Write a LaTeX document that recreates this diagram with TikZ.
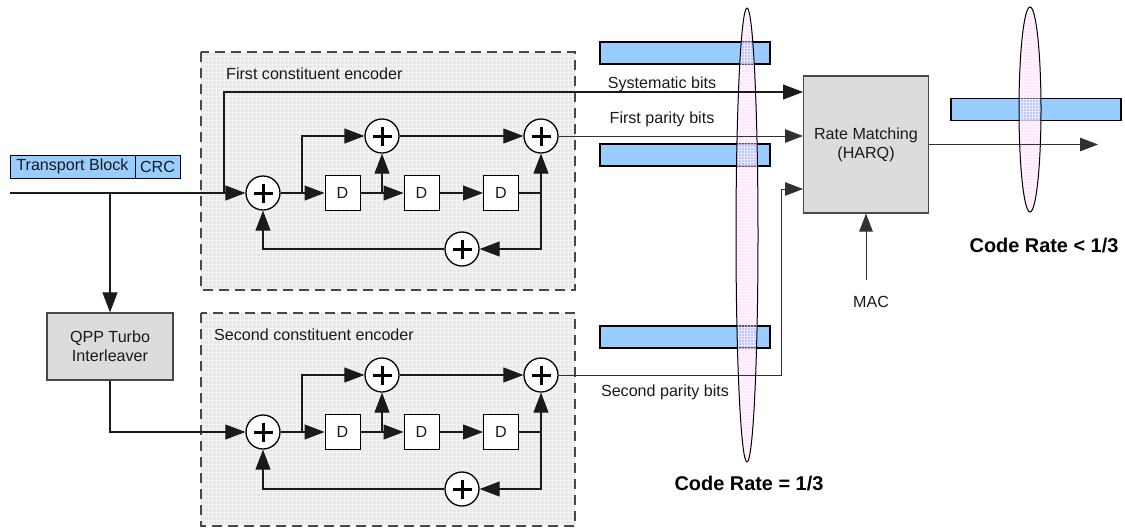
\documentclass[tikz,border=0pt]{standalone}
\usepackage{fontspec}
\setmainfont{Liberation Sans}
\usepackage{xcolor}
\usetikzlibrary{arrows.meta}
\definecolor{ink}{HTML}{1A1A1A}
\definecolor{barblue}{HTML}{99CCFF}
\definecolor{boxgray}{HTML}{DCDCDC}
\definecolor{encgray}{HTML}{E8E8E8}
\definecolor{encgrid}{HTML}{F4F4F4}
\definecolor{lenspink}{HTML}{FFBFFF}
\tikzset{
  flow/.style={draw=ink, line width=1.05pt, -{Triangle[length=20pt,width=15pt]}},
  flowthin/.style={draw=ink!90, line width=1pt, -{Triangle[length=18pt,width=13.5pt]}},
  plainline/.style={draw=ink, line width=1.05pt},
  encbox/.style={draw=ink!80, line width=1.5pt, dash pattern=on 10pt off 6pt},
  gridline/.style={draw=encgrid, line width=0.6pt},
  lensline/.style={draw=white, line width=0.5pt, opacity=0.6},
  lens/.style={draw=black, line width=1pt},
  adder/.style={circle, draw=black, fill=white, line width=1.3pt, minimum size=34pt, inner sep=0pt,
    path picture={\draw[line width=3pt] (path picture bounding box.center) +(-9.5,0) -- +(9.5,0)
      (path picture bounding box.center) +(0,-9.5) -- +(0,9.5);}},
  delay/.style={draw=black, fill=white, line width=1pt, minimum size=35pt, inner sep=0pt, lab},
  graybox/.style={draw=ink!80, fill=boxgray, line width=1.2pt, inner sep=0pt, align=center, lab},
  bar/.style={draw=black, fill=barblue, line width=1.1pt, minimum width=170pt, minimum height=22pt, inner sep=0pt},
  tbcell/.style={draw=black, fill=barblue, line width=1pt, minimum height=23pt, inner sep=0pt, lab},
  lab/.style={text=ink, font=\fontsize{16.1}{19}\selectfont, align=center},
  ratelab/.style={text=black, font=\fontsize{19.9}{23}\selectfont\bfseries},
}
\begin{document}
\begin{tikzpicture}[x=1pt,y=-1pt]
  \useasboundingbox (0,0) rectangle (1125,528);

  % encoder backgrounds
  \fill[encgray] (201,52) rectangle (575,290);
  \fill[encgray] (201,313) rectangle (575,526);
  \draw[gridline,step=4pt] (201,52) grid (575,290);
  \draw[gridline,step=4pt] (201,313) grid (575,526);
  \draw[encbox] (201,52) rectangle (575,290);
  \draw[encbox] (201,313) rectangle (575,526);
  \node[lab,anchor=west,inner sep=0pt] (enc1lab) at (226,73.5) {First constituent encoder};
  \node[lab,anchor=west,inner sep=0pt] (enc2lab) at (214,334.5) {Second constituent encoder};

  % bits
  \node[bar] (bar1) at (685,53) {};
  \node[bar] (bar2) at (685,155) {};
  \node[bar] (bar3) at (685,337) {};
  \node[bar] (bar4) at (1036,109.5) {};
  \node[tbcell,minimum width=125pt] (tb) at (72.5,166.5) {Transport Block};
  \node[tbcell,minimum width=45pt] (crc) at (157.5,166.5) {CRC};

  % code rate lenses
  \fill[lenspink,opacity=0.4] (747,235) ellipse (11 and 227);
  \fill[lenspink,opacity=0.4] (1030,109.5) ellipse (11 and 102.5);
  \begin{scope}
    \clip (747,235) ellipse (11 and 227);
    \draw[lensline,step=3pt] (730,0) grid (765,470);
  \end{scope}
  \begin{scope}
    \clip (1030,109.5) ellipse (11 and 102.5);
    \draw[lensline,step=3pt] (1015,0) grid (1045,220);
  \end{scope}
  \draw[lens] (747,235) ellipse (11 and 227);
  \draw[lens] (1030,109.5) ellipse (11 and 102.5);

  \node[graybox,minimum width=126pt,minimum height=67pt] (qpp) at (110,346.5) {QPP Turbo\\Interleaver};
  \node[graybox,minimum width=125pt,minimum height=137pt] (rm) at (866,144.5) {Rate Matching\\(HARQ)};

  % both encoders
  \foreach \n/\yo/\ybot in {a/0/249,b/239/489} {
    \node[adder] (add\n) at (263,193+\yo) {};
    \node[adder] (addt\n) at (382,136+\yo) {};
    \node[adder] (addr\n) at (541,136+\yo) {};
    \node[adder] (addb\n) at (462,\ybot) {};
    \node[delay] (done\n) at (342.5,193+\yo) {D};
    \node[delay] (dtwo\n) at (421.5,193+\yo) {D};
    \node[delay] (dthree\n) at (501,193+\yo) {D};
    \coordinate (tapa\n) at (302,193+\yo);
    \coordinate (tapb\n) at (382,193+\yo);
    \coordinate (tapc\n) at (541,193+\yo);
    \draw[flow] (add\n) -- (done\n);
    \draw[flow] (done\n) -- (dtwo\n);
    \draw[flow] (dtwo\n) -- (dthree\n);
    \draw[plainline] (dthree\n) -- (tapc\n);
    \draw[flow] (tapa\n) |- (addt\n);
    \draw[flow] (tapb\n) -- (addt\n);
    \draw[flow] (addt\n) -- (addr\n);
    \draw[flow] (tapc\n) -- (addr\n);
    \draw[flow] (tapc\n) |- (addb\n);
    \draw[flow] (addb\n) -| (add\n);
  }

  % inputs
  \coordinate (in) at (10,193);
  \coordinate (tapq) at (110,193);
  \coordinate (tapsys) at (224,193);
  \coordinate (rmsys) at (803,92);
  \coordinate (rmfirst) at (803,136);
  \coordinate (rmsec) at (803,189);
  \coordinate (secup) at (781,375);
  \draw[flow] (in) -- (adda);
  \draw[flow] (tapq) -- (qpp);
  \draw[flow] (qpp) |- (addb);
  \draw[flow] (tapsys) |- (rmsys);

  % to rate matching
  \draw[flowthin] (addra) -- (rmfirst);
  \draw[flowthin] (addrb) -- (secup) |- (rmsec);
  \node[lab] (sys) at (662,84.5) {Systematic bits};
  \node[lab] (first) at (662,119.5) {First parity bits};
  \node[lab] (second) at (665,392.5) {Second parity bits};

  \node[lab] (mac) at (871,301.5) {MAC};
  \coordinate (mactop) at (866,280);
  \draw[flowthin] (mactop) -- (rm.south);
  \coordinate (out) at (1098,144.5);
  \draw[flowthin] (rm.east) -- (out);

  \node[ratelab] (rate1) at (749,483) {Code Rate = 1/3};
  \node[ratelab] (rate2) at (1044,245) {Code Rate < 1/3};
\end{tikzpicture}
\end{document}
